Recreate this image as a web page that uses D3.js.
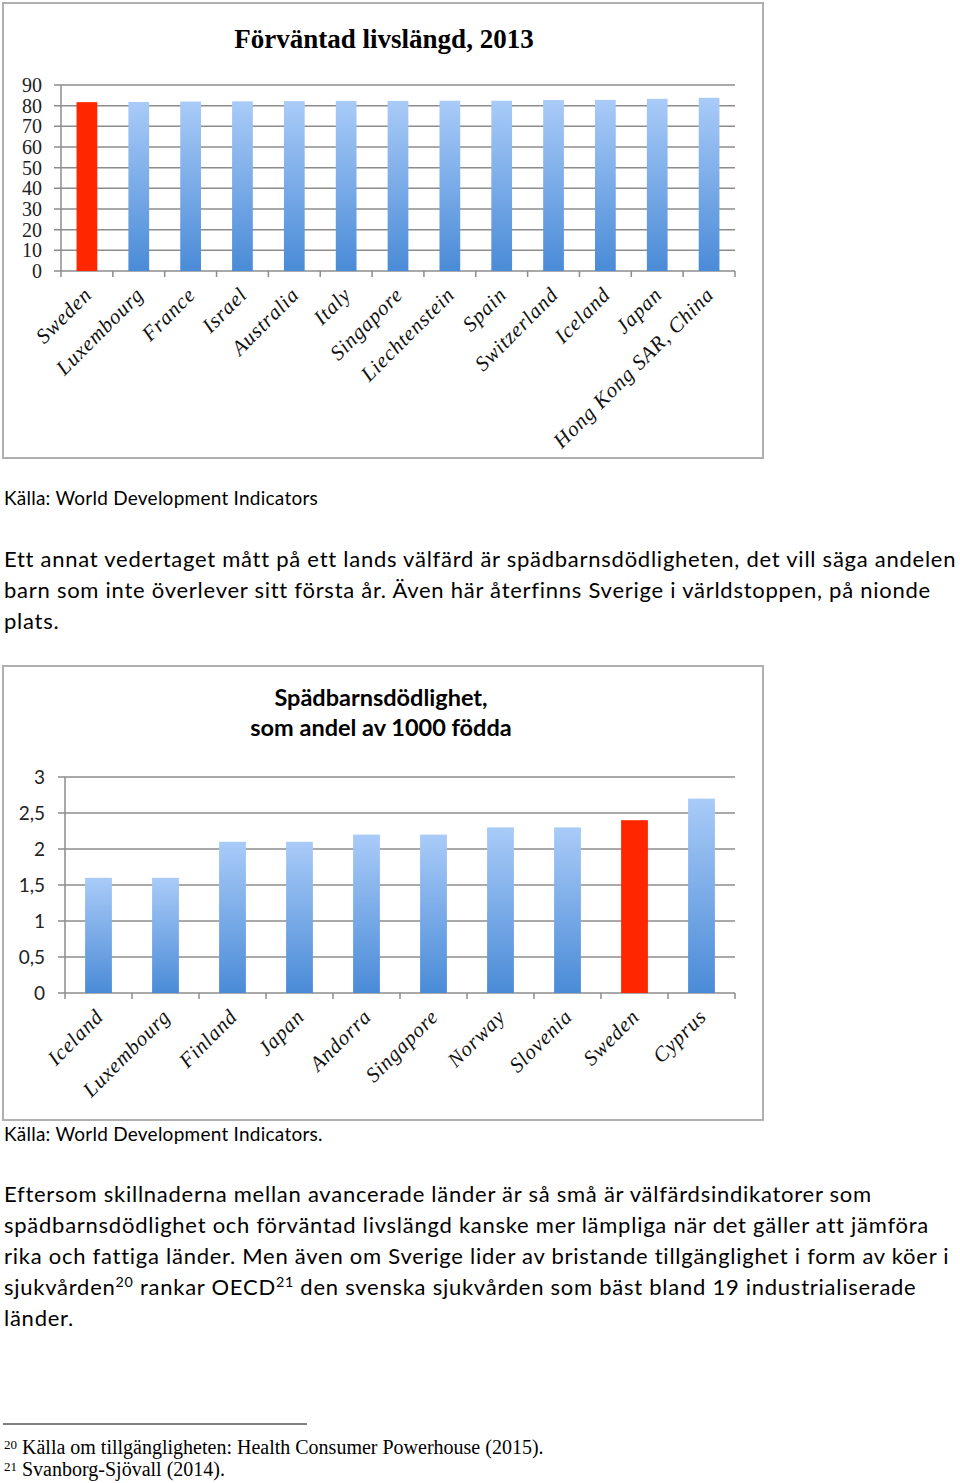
<!DOCTYPE html>
<html>
<head>
<meta charset="utf-8">
<script src="https://cdn.jsdelivr.net/npm/d3@7"></script>
<style>
  body { margin: 0; background: #fff; }
  svg { display: block; }
</style>
</head>
<body>
<div id="page"></div>
<script>
// expected life length 2013
const lifeCountries = ["Sweden", "Luxembourg", "France", "Israel", "Australia", "Italy", "Singapore",
    "Liechtenstein", "Spain", "Switzerland", "Iceland", "Japan", "Hong Kong SAR, China"];
const lifeValues = [81.7, 81.8, 82.0, 82.1, 82.2, 82.3, 82.3, 82.4, 82.4, 82.7, 82.8, 83.3, 83.8];
const lifeTicks = [0, 10, 20, 30, 40, 50, 60, 70, 80, 90];

// infant mortality per 1000 births
const infantCountries = ["Iceland", "Luxembourg", "Finland", "Japan", "Andorra", "Singapore",
    "Norway", "Slovenia", "Sweden", "Cyprus"];
const infantValues = [1.6, 1.6, 2.1, 2.1, 2.2, 2.2, 2.3, 2.3, 2.4, 2.7];
const infantTicks = [0, 0.5, 1, 1.5, 2, 2.5, 3];

const highlight = "Sweden";

const width = 960;
const height = 1483;

const svg = d3.select("#page").append("svg")
    .attr("width", width)
    .attr("height", height);

svg.append("rect").attr("width", width).attr("height", height).attr("fill", "#fff");

const defs = svg.append("defs");
const grad = defs.append("linearGradient")
    .attr("id", "barGrad")
    .attr("x1", 0).attr("y1", 0).attr("x2", 0).attr("y2", 1);
grad.append("stop").attr("offset", "0%").attr("stop-color", "#a9cbf8");
grad.append("stop").attr("offset", "100%").attr("stop-color", "#4a8bd7");

const serif = "'Liberation Serif', serif";
const sans = "Lato, 'Open Sans', sans-serif";

function drawChart(opt) {
    const g = svg.append("g");

    // outer frame
    g.append("rect")
        .attr("x", opt.frame[0]).attr("y", opt.frame[1])
        .attr("width", opt.frame[2]).attr("height", opt.frame[3])
        .attr("fill", "none")
        .attr("stroke", "#b0b0b0")
        .attr("stroke-width", 2);

    const x = d3.scaleBand()
        .domain(opt.categories)
        .range([opt.left, opt.right]);

    const y = d3.scaleLinear()
        .domain([0, d3.max(opt.ticks)])
        .range([opt.bottom, opt.top]);

    // gridlines
    g.selectAll(".grid")
        .data(opt.ticks)
        .enter().append("line")
        .attr("x1", opt.left - 7).attr("x2", opt.right)
        .attr("y1", d => y(d)).attr("y2", d => y(d))
        .attr("stroke", "#8c8c8c")
        .attr("stroke-width", 1.5);

    // y axis line
    g.append("line")
        .attr("x1", opt.left).attr("x2", opt.left)
        .attr("y1", opt.top).attr("y2", opt.bottom)
        .attr("stroke", "#8c8c8c").attr("stroke-width", 1.5);

    // y tick labels
    g.selectAll(".ytick")
        .data(opt.ticks)
        .enter().append("text")
        .attr("x", opt.labelX)
        .attr("y", d => y(d))
        .attr("dy", "0.35em")
        .attr("text-anchor", "end")
        .style("font-family", opt.tickFont)
        .style("font-size", opt.tickSize + "px")
        .style("fill", "#222")
        .text(d => String(d).replace(".", ","));

    // x tick marks at band edges
    const edges = opt.categories.map(c => x(c)).concat([opt.right]);
    g.selectAll(".xtick")
        .data(edges)
        .enter().append("line")
        .attr("x1", d => d).attr("x2", d => d)
        .attr("y1", opt.bottom).attr("y2", opt.bottom + 6)
        .attr("stroke", "#8c8c8c").attr("stroke-width", 1.5);

    // bars
    const bw = x.bandwidth() * opt.barFrac;
    g.selectAll(".bar")
        .data(opt.values)
        .enter().append("rect")
        .attr("x", (d, i) => x(opt.categories[i]) + (x.bandwidth() - bw) / 2)
        .attr("y", d => y(d))
        .attr("width", bw)
        .attr("height", d => opt.bottom - y(d))
        .attr("fill", (d, i) => opt.categories[i] === highlight ? "#ff2600" : "url(#barGrad)");

    // rotated category labels
    g.selectAll(".xlab")
        .data(opt.categories)
        .enter().append("text")
        .attr("transform", d => "translate(" + (x(d) + x.bandwidth() / 2 + 6) + "," + (opt.bottom + 25) + ") rotate(-45)")
        .attr("text-anchor", "end")
        .style("font-family", serif)
        .style("font-style", "italic")
        .style("font-size", opt.catSize + "px")
        .style("letter-spacing", "0.8px")
        .style("fill", "#111")
        .text(d => d);

    // title
    opt.title.forEach((t, i) => {
        g.append("text")
            .attr("x", opt.titleX)
            .attr("y", opt.titleY + i * opt.titleLead)
            .attr("text-anchor", "middle")
            .style("font-family", opt.titleFont)
            .style("font-weight", "bold")
            .style("font-size", opt.titleSize + "px")
            .style("fill", "#000")
            .text(t);
    });
}

drawChart({
    frame: [3, 3, 760, 455],
    categories: lifeCountries,
    values: lifeValues,
    ticks: lifeTicks,
    left: 61, right: 735, top: 85, bottom: 271,
    labelX: 42, tickFont: serif, tickSize: 20,
    barFrac: 0.4, catSize: 21,
    title: ["Förväntad livslängd, 2013"],
    titleX: 384, titleY: 48, titleLead: 0, titleFont: serif, titleSize: 27
});

drawChart({
    frame: [3, 666, 760, 454],
    categories: infantCountries,
    values: infantValues,
    ticks: infantTicks,
    left: 65, right: 735, top: 777, bottom: 993,
    labelX: 45, tickFont: sans, tickSize: 19,
    barFrac: 0.4, catSize: 21,
    title: ["Spädbarnsdödlighet,", "som andel av 1000 födda"],
    titleX: 381, titleY: 706, titleLead: 30, titleFont: sans, titleSize: 23.5
});

// body text
function textLine(xp, yp, parts, size, family) {
    const t = svg.append("text")
        .attr("x", xp).attr("y", yp)
        .style("font-family", family)
        .style("font-size", size + "px")
        .style("fill", "#000");
    let raised = false;
    parts.forEach(p => {
        if (typeof p === "string") {
            t.append("tspan").attr("dy", raised ? 8 : 0).text(p);
            raised = false;
        } else {
            t.append("tspan")
                .attr("dy", -8)
                .style("font-size", (size * 0.65) + "px")
                .text(p.sup);
            raised = true;
        }
    });
    return t;
}

// stretch letter spacing so a line reaches the given width
function fitSpacing(sel, target) {
    const node = sel.node();
    const w = node.getComputedTextLength();
    const n = node.textContent.length;
    return (target - w) / n;
}

const src1 = textLine(4, 505, ["Källa: World Development Indicators"], 19, sans);
const srcSp = fitSpacing(src1, 314);
src1.style("letter-spacing", srcSp + "px");

const para1 = [
    "Ett annat vedertaget mått på ett lands välfärd är spädbarnsdödligheten, det vill säga andelen",
    "barn som inte överlever sitt första år. Även här återfinns Sverige i världstoppen, på nionde",
    "plats."
];
const p1 = para1.map((l, i) => textLine(4, 567 + i * 31, [l], 22, sans));
const bodySp = fitSpacing(p1[0], 950);
p1.forEach(t => t.style("letter-spacing", bodySp + "px"));

textLine(4, 1141, ["Källa: World Development Indicators."], 19, sans)
    .style("letter-spacing", srcSp + "px");

const para2 = [
    ["Eftersom skillnaderna mellan avancerade länder är så små är välfärdsindikatorer som"],
    ["spädbarnsdödlighet och förväntad livslängd kanske mer lämpliga när det gäller att jämföra"],
    ["rika och fattiga länder. Men även om Sverige lider av bristande tillgänglighet i form av köer i"],
    ["sjukvården", {sup: "20"}, " rankar OECD", {sup: "21"}, " den svenska sjukvården som bäst bland 19 industrialiserade"],
    ["länder."]
];
para2.forEach((l, i) => textLine(4, 1202 + i * 31, l, 22, sans).style("letter-spacing", bodySp + "px"));

// footnotes
svg.append("line")
    .attr("x1", 3).attr("x2", 307)
    .attr("y1", 1424).attr("y2", 1424)
    .attr("stroke", "#000").attr("stroke-width", 1);

const notes = [
    ["20", " Källa om tillgängligheten: Health Consumer Powerhouse (2015)."],
    ["21", " Svanborg-Sjövall (2014)."]
];
notes.forEach((n, i) => {
    const t = svg.append("text")
        .attr("x", 4).attr("y", 1454 + i * 22)
        .style("font-family", serif)
        .style("font-size", "20px");
    t.append("tspan").attr("dy", -5).style("font-size", "13px").text(n[0]);
    t.append("tspan").attr("dy", 5).text(n[1]);
});
</script>
</body>
</html>
